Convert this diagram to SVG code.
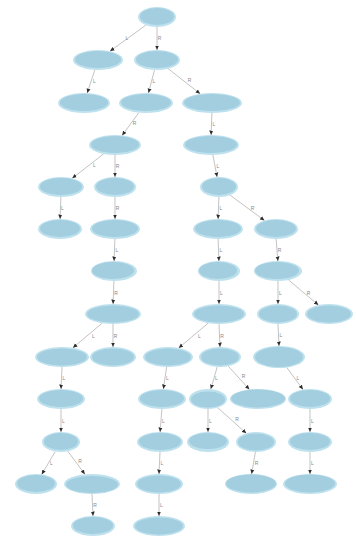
<svg xmlns="http://www.w3.org/2000/svg" width="356" height="541" viewBox="0 0 356 541">
  <defs>
    <style>
      .rim { fill: #bee1ee; }
      .core { fill: #a3cedf; }
      .edge { stroke: #b4b4b4; stroke-width: 0.8; fill: none; marker-end: url(#tip); }
      .lbl { font-family: "Liberation Sans", Arial, sans-serif; font-size: 5px; fill: #8a8a8a; text-anchor: middle; }
    </style>
    <marker id="tip" markerUnits="userSpaceOnUse" markerWidth="5" markerHeight="5" refX="4.5" refY="2.5" orient="auto">
      <path d="M0,0.5 L4.5,2.5 L0,4.5 z" fill="#2e2e2e"/>
    </marker>
  </defs>
  <rect width="356" height="541" fill="#ffffff"/>

  <g id="connectors">
    <line class="edge" x1="145.9" y1="25.1" x2="110" y2="51.2"/><text class="lbl" x="127" y="40">L</text>
    <line class="edge" x1="157" y1="27" x2="157" y2="50"/><text class="lbl" x="159.5" y="40">R</text>
    <line class="edge" x1="94.8" y1="69.9" x2="87.2" y2="93.1"/><text class="lbl" x="94.5" y="83">L</text>
    <line class="edge" x1="154.5" y1="69.9" x2="148.5" y2="93"/><text class="lbl" x="154" y="83">L</text>
    <line class="edge" x1="168.2" y1="68.7" x2="200.2" y2="93.8"/><text class="lbl" x="189.5" y="82">R</text>
    <line class="edge" x1="138.9" y1="112.6" x2="122.1" y2="135.4"/><text class="lbl" x="134.5" y="125">R</text>
    <line class="edge" x1="211.9" y1="113" x2="211.1" y2="135"/><text class="lbl" x="214" y="126">L</text>
    <line class="edge" x1="103.5" y1="154" x2="72.2" y2="178.3"/><text class="lbl" x="94.5" y="167">L</text>
    <line class="edge" x1="115" y1="155" x2="115" y2="177"/><text class="lbl" x="117.5" y="168">R</text>
    <line class="edge" x1="212.9" y1="155" x2="217.1" y2="177"/><text class="lbl" x="218" y="168">L</text>
    <line class="edge" x1="60.9" y1="197" x2="60.1" y2="219"/><text class="lbl" x="62.5" y="210">L</text>
    <line class="edge" x1="115" y1="197" x2="115" y2="219"/><text class="lbl" x="117.5" y="210">R</text>
    <line class="edge" x1="218.9" y1="197" x2="218.1" y2="219"/><text class="lbl" x="221" y="210">L</text>
    <line class="edge" x1="230" y1="195.1" x2="264.5" y2="220.5"/><text class="lbl" x="252.5" y="210">R</text>
    <line class="edge" x1="114.9" y1="239" x2="114.1" y2="261"/><text class="lbl" x="117" y="252">L</text>
    <line class="edge" x1="218.1" y1="239" x2="218.9" y2="261"/><text class="lbl" x="221" y="252">L</text>
    <line class="edge" x1="276.1" y1="239" x2="277.9" y2="261"/><text class="lbl" x="279.5" y="252">R</text>
    <line class="edge" x1="113.9" y1="281" x2="113.1" y2="304"/><text class="lbl" x="116" y="295">R</text>
    <line class="edge" x1="219" y1="281" x2="219" y2="304"/><text class="lbl" x="221.5" y="295">L</text>
    <line class="edge" x1="278" y1="281" x2="278" y2="304"/><text class="lbl" x="280.5" y="295">L</text>
    <line class="edge" x1="288.6" y1="280" x2="318.4" y2="305"/><text class="lbl" x="308.5" y="295">R</text>
    <line class="edge" x1="102.1" y1="323.2" x2="72.9" y2="347.8"/><text class="lbl" x="93.5" y="338">L</text>
    <line class="edge" x1="113" y1="324" x2="113" y2="347"/><text class="lbl" x="115.5" y="338">R</text>
    <line class="edge" x1="208.1" y1="323.2" x2="178.7" y2="348"/><text class="lbl" x="199.5" y="338">L</text>
    <line class="edge" x1="219" y1="324" x2="220" y2="347"/><text class="lbl" x="222" y="338">R</text>
    <line class="edge" x1="278" y1="324" x2="279" y2="346"/><text class="lbl" x="281" y="337">L</text>
    <line class="edge" x1="62" y1="367" x2="61" y2="389"/><text class="lbl" x="64" y="380">L</text>
    <line class="edge" x1="166.6" y1="367" x2="163.4" y2="389"/><text class="lbl" x="167.5" y="380">L</text>
    <line class="edge" x1="217.2" y1="366.9" x2="210.8" y2="389.1"/><text class="lbl" x="216.5" y="380">L</text>
    <line class="edge" x1="228.3" y1="366.2" x2="249.4" y2="389.5"/><text class="lbl" x="243.5" y="378">R</text>
    <line class="edge" x1="286.8" y1="367.5" x2="303" y2="389.5"/><text class="lbl" x="298" y="380">L</text>
    <line class="edge" x1="61" y1="409" x2="61" y2="432"/><text class="lbl" x="63.5" y="423">L</text>
    <line class="edge" x1="161.9" y1="409" x2="160.1" y2="432"/><text class="lbl" x="163.5" y="423">L</text>
    <line class="edge" x1="208" y1="409" x2="208" y2="432"/><text class="lbl" x="210.5" y="423">L</text>
    <line class="edge" x1="217.6" y1="407.6" x2="246.3" y2="433.3"/><text class="lbl" x="237" y="421">R</text>
    <line class="edge" x1="310" y1="409" x2="310" y2="432"/><text class="lbl" x="312.5" y="423">L</text>
    <line class="edge" x1="55.3" y1="451.5" x2="41.7" y2="474.4"/><text class="lbl" x="51.5" y="465">L</text>
    <line class="edge" x1="67.9" y1="451.3" x2="84.9" y2="474.3"/><text class="lbl" x="80" y="463">R</text>
    <line class="edge" x1="160" y1="452" x2="159" y2="474"/><text class="lbl" x="162" y="465">L</text>
    <line class="edge" x1="255.4" y1="452" x2="251.6" y2="474"/><text class="lbl" x="256.5" y="465">R</text>
    <line class="edge" x1="310" y1="452" x2="310" y2="474"/><text class="lbl" x="312.5" y="465">L</text>
    <line class="edge" x1="92" y1="494" x2="93" y2="516"/><text class="lbl" x="95" y="507">R</text>
    <line class="edge" x1="159" y1="494" x2="159" y2="516"/><text class="lbl" x="161.5" y="507">L</text>
  </g>

  <!-- each node: a pale rim ellipse with a darker core -->
  <g id="n0"><ellipse class="rim" cx="157" cy="17" rx="19" ry="10"/><ellipse class="core" cx="157" cy="16.5" rx="17" ry="8.5"/></g>
  <g id="n1"><ellipse class="rim" cx="98" cy="60" rx="25" ry="10"/><ellipse class="core" cx="98" cy="59.5" rx="23" ry="8.5"/></g>
  <g id="n2"><ellipse class="rim" cx="157" cy="60" rx="23" ry="10"/><ellipse class="core" cx="157" cy="59.5" rx="21" ry="8.5"/></g>
  <g id="n3"><ellipse class="rim" cx="84" cy="103" rx="26" ry="10"/><ellipse class="core" cx="84" cy="102.5" rx="24" ry="8.5"/></g>
  <g id="n4"><ellipse class="rim" cx="146" cy="103" rx="27" ry="10"/><ellipse class="core" cx="146" cy="102.5" rx="25" ry="8.5"/></g>
  <g id="n5"><ellipse class="rim" cx="212" cy="103" rx="30" ry="10"/><ellipse class="core" cx="212" cy="102.5" rx="28" ry="8.5"/></g>
  <g id="n6"><ellipse class="rim" cx="115" cy="145" rx="26" ry="10"/><ellipse class="core" cx="115" cy="144.5" rx="24" ry="8.5"/></g>
  <g id="n7"><ellipse class="rim" cx="211" cy="145" rx="28" ry="10"/><ellipse class="core" cx="211" cy="144.5" rx="26" ry="8.5"/></g>
  <g id="n8"><ellipse class="rim" cx="61" cy="187" rx="23" ry="10"/><ellipse class="core" cx="61" cy="186.5" rx="21" ry="8.5"/></g>
  <g id="n9"><ellipse class="rim" cx="115" cy="187" rx="21" ry="10"/><ellipse class="core" cx="115" cy="186.5" rx="19" ry="8.5"/></g>
  <g id="n10"><ellipse class="rim" cx="219" cy="187" rx="19" ry="10"/><ellipse class="core" cx="219" cy="186.5" rx="17" ry="8.5"/></g>
  <g id="n11"><ellipse class="rim" cx="60" cy="229" rx="22" ry="10"/><ellipse class="core" cx="60" cy="228.5" rx="20" ry="8.5"/></g>
  <g id="n12"><ellipse class="rim" cx="115" cy="229" rx="25" ry="10"/><ellipse class="core" cx="115" cy="228.5" rx="23" ry="8.5"/></g>
  <g id="n13"><ellipse class="rim" cx="218" cy="229" rx="25" ry="10"/><ellipse class="core" cx="218" cy="228.5" rx="23" ry="8.5"/></g>
  <g id="n14"><ellipse class="rim" cx="276" cy="229" rx="22" ry="10"/><ellipse class="core" cx="276" cy="228.5" rx="20" ry="8.5"/></g>
  <g id="n15"><ellipse class="rim" cx="114" cy="271" rx="23" ry="10"/><ellipse class="core" cx="113" cy="270.5" rx="21" ry="8.5"/></g>
  <g id="n16"><ellipse class="rim" cx="219" cy="271" rx="21" ry="10"/><ellipse class="core" cx="218" cy="270.5" rx="19" ry="8.5"/></g>
  <g id="n17"><ellipse class="rim" cx="278" cy="271" rx="24" ry="10"/><ellipse class="core" cx="277" cy="270.5" rx="22" ry="8.5"/></g>
  <g id="n18"><ellipse class="rim" cx="113" cy="314" rx="28" ry="10"/><ellipse class="core" cx="113" cy="314" rx="26" ry="8.5"/></g>
  <g id="n19"><ellipse class="rim" cx="219" cy="314" rx="27" ry="10"/><ellipse class="core" cx="219" cy="314" rx="25" ry="8.5"/></g>
  <g id="n20"><ellipse class="rim" cx="278" cy="314" rx="21" ry="10"/><ellipse class="core" cx="278" cy="314" rx="19" ry="8.5"/></g>
  <g id="n21"><ellipse class="rim" cx="329" cy="314" rx="24" ry="10"/><ellipse class="core" cx="329" cy="314" rx="22" ry="8.5"/></g>
  <g id="n22"><ellipse class="rim" cx="62" cy="357" rx="27" ry="10"/><ellipse class="core" cx="62" cy="357" rx="25" ry="8.5"/></g>
  <g id="n23"><ellipse class="rim" cx="113" cy="357" rx="23" ry="10"/><ellipse class="core" cx="113" cy="357" rx="21" ry="8.5"/></g>
  <g id="n24"><ellipse class="rim" cx="168" cy="357" rx="25" ry="10"/><ellipse class="core" cx="168" cy="357" rx="23" ry="8.5"/></g>
  <g id="n25"><ellipse class="rim" cx="220" cy="357" rx="21" ry="10"/><ellipse class="core" cx="220" cy="357" rx="19" ry="8.5"/></g>
  <g id="n26"><ellipse class="rim" cx="279" cy="357" rx="26" ry="11"/><ellipse class="core" cx="279" cy="357" rx="24" ry="10"/></g>
  <g id="n27"><ellipse class="rim" cx="61" cy="399" rx="24" ry="10"/><ellipse class="core" cx="61" cy="398.5" rx="22" ry="8.5"/></g>
  <g id="n28"><ellipse class="rim" cx="162" cy="399" rx="24" ry="10"/><ellipse class="core" cx="162" cy="398.5" rx="22" ry="8.5"/></g>
  <g id="n29"><ellipse class="rim" cx="208" cy="399" rx="19" ry="10"/><ellipse class="core" cx="208" cy="399.5" rx="17" ry="8"/></g>
  <g id="n30"><ellipse class="rim" cx="258" cy="399" rx="28" ry="10"/><ellipse class="core" cx="258" cy="398.5" rx="27" ry="9"/></g>
  <g id="n31"><ellipse class="rim" cx="310" cy="399" rx="22" ry="10"/><ellipse class="core" cx="310" cy="398.5" rx="20" ry="8.5"/></g>
  <g id="n32"><ellipse class="rim" cx="61" cy="442" rx="19" ry="10"/><ellipse class="core" cx="61" cy="441.5" rx="17" ry="8.5"/></g>
  <g id="n33"><ellipse class="rim" cx="160" cy="442" rx="23" ry="10"/><ellipse class="core" cx="160" cy="441.5" rx="21" ry="8.5"/></g>
  <g id="n34"><ellipse class="rim" cx="208" cy="442" rx="21" ry="10"/><ellipse class="core" cx="208" cy="441" rx="19" ry="8"/></g>
  <g id="n35"><ellipse class="rim" cx="256" cy="442" rx="20" ry="10"/><ellipse class="core" cx="256" cy="442" rx="18" ry="8.5"/></g>
  <g id="n36"><ellipse class="rim" cx="310" cy="442" rx="22" ry="10"/><ellipse class="core" cx="310" cy="441.5" rx="20" ry="8.5"/></g>
  <g id="n37"><ellipse class="rim" cx="36" cy="484" rx="21" ry="10"/><ellipse class="core" cx="36" cy="483.5" rx="19" ry="8.5"/></g>
  <g id="n38"><ellipse class="rim" cx="92" cy="484" rx="28" ry="10"/><ellipse class="core" cx="92" cy="484.5" rx="26" ry="8.5"/></g>
  <g id="n39"><ellipse class="rim" cx="159" cy="484" rx="24" ry="10"/><ellipse class="core" cx="159" cy="484" rx="22" ry="8.5"/></g>
  <g id="n40"><ellipse class="rim" cx="251" cy="484" rx="26" ry="10"/><ellipse class="core" cx="251" cy="483.5" rx="25" ry="9"/></g>
  <g id="n41"><ellipse class="rim" cx="310" cy="484" rx="27" ry="10"/><ellipse class="core" cx="310" cy="483.5" rx="25" ry="9"/></g>
  <g id="n42"><ellipse class="rim" cx="93" cy="526" rx="22" ry="10"/><ellipse class="core" cx="93" cy="525.5" rx="20" ry="8.5"/></g>
  <g id="n43"><ellipse class="rim" cx="159" cy="526" rx="26" ry="10"/><ellipse class="core" cx="159" cy="526" rx="24" ry="8.5"/></g>
</svg>
